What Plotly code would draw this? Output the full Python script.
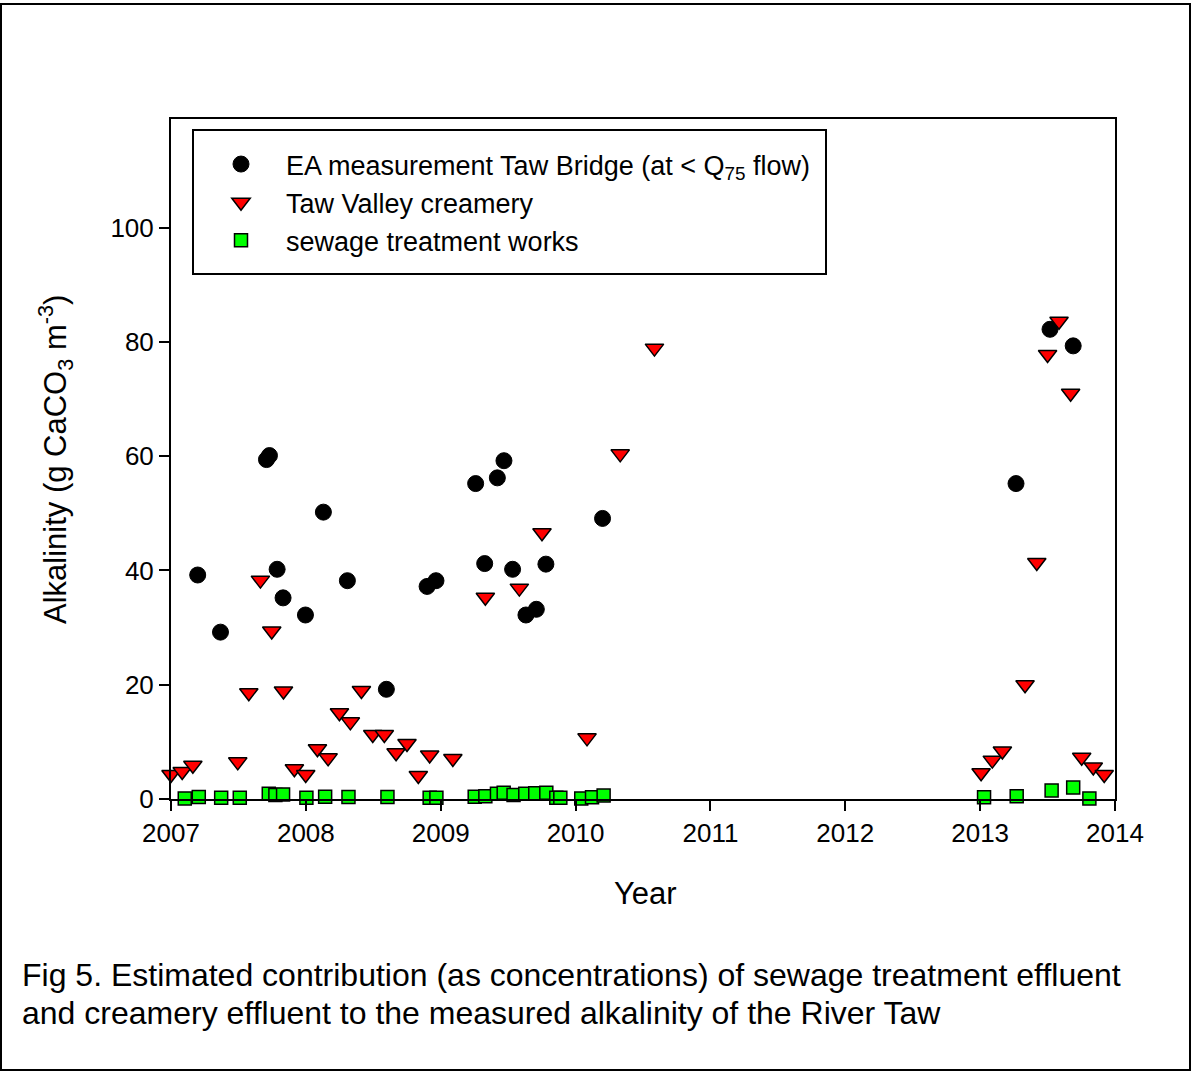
import plotly.graph_objects as go

# ---- data ----
ea_year = [2007.198, 2007.367, 2007.708, 2007.730, 2007.787, 2007.831, 2007.997, 2008.130,
           2008.308, 2008.597, 2008.899, 2008.965, 2009.259, 2009.326, 2009.420, 2009.469,
           2009.533, 2009.632, 2009.709, 2009.780, 2010.200, 2013.266, 2013.518, 2013.690]
ea_alk = [39.2, 29.2, 59.4, 60.1, 40.2, 35.2, 32.2, 50.2,
          38.2, 19.2, 37.2, 38.2, 55.2, 41.2, 56.2, 59.2,
          40.2, 32.2, 33.2, 41.1, 49.1, 55.2, 82.2, 79.3]

cr_year = [2007.000, 2007.083, 2007.162, 2007.495, 2007.577, 2007.663, 2007.747, 2007.834,
           2007.915, 2007.999, 2008.086, 2008.165, 2008.249, 2008.330, 2008.412, 2008.496,
           2008.582, 2008.669, 2008.750, 2008.834, 2008.918, 2009.090, 2009.331, 2009.583,
           2009.751, 2010.085, 2010.331, 2010.585, 2013.007, 2013.090, 2013.165, 2013.333,
           2013.420, 2013.500, 2013.585, 2013.671, 2013.753, 2013.839, 2013.920]
cr_alk = [4.3, 4.8, 5.9, 6.5, 18.6, 38.3, 29.4, 18.9,
          5.3, 4.3, 8.8, 7.2, 15.1, 13.5, 19.0, 11.3,
          11.3, 8.1, 9.7, 4.1, 7.7, 7.1, 35.3, 36.9,
          46.6, 10.7, 60.4, 78.9, 4.6, 6.8, 8.4, 20.0,
          41.4, 77.8, 83.6, 71.0, 7.3, 5.6, 4.3]

sw_year = [2007.102, 2007.206, 2007.372, 2007.510, 2007.725, 2007.774, 2007.831, 2008.004,
           2008.143, 2008.316, 2008.605, 2008.918, 2008.968, 2009.252, 2009.331, 2009.417,
           2009.467, 2009.540, 2009.627, 2009.701, 2009.783, 2009.857, 2009.887, 2010.042,
           2010.122, 2010.208, 2013.029, 2013.271, 2013.530, 2013.690, 2013.810]
sw_alk = [0.1, 0.35, 0.2, 0.2, 0.9, 0.7, 0.8, 0.2,
          0.4, 0.35, 0.35, 0.2, 0.2, 0.4, 0.5, 0.9,
          1.1, 0.7, 0.9, 1.0, 1.1, 0.2, 0.2, 0.1,
          0.3, 0.6, 0.3, 0.5, 1.5, 2.0, 0.1]

x_ticks = [2007, 2008, 2009, 2010, 2011, 2012, 2013, 2014]
y_ticks = [0, 20, 40, 60, 80, 100]

series_names = ["EA measurement Taw Bridge (at &lt; Q<sub>75</sub> flow)",
                "Taw Valley creamery",
                "sewage treatment works"]

caption_lines = ["Fig 5. Estimated contribution (as concentrations) of sewage treatment effluent",
                 "and creamery effluent to the measured alkalinity of the River Taw"]

FONT = "Arial, Liberation Sans, sans-serif"

# ---- layout geometry (pixels) ----
W, H = 1192, 1072
L, R, T, B = 171, 77, 119, 273
PW, PH = W - L - R, H - T - B


def px(xp):
    return (xp - L) / PW


def py(yp):
    return (H - B - yp) / PH


fig = go.Figure()
fig.add_trace(go.Scatter(
    x=ea_year, y=ea_alk, mode="markers", name=series_names[0], cliponaxis=False,
    marker=dict(symbol="circle", size=16, color="black", line=dict(color="black", width=1))))
fig.add_trace(go.Scatter(
    x=cr_year, y=cr_alk, mode="markers", name=series_names[1], cliponaxis=False,
    marker=dict(symbol="triangle-down", size=16, color="#ff0000", line=dict(color="black", width=1.5))))
fig.add_trace(go.Scatter(
    x=sw_year, y=sw_alk, mode="markers", name=series_names[2], cliponaxis=False,
    marker=dict(symbol="square", size=13, color="#00ff00", line=dict(color="black", width=1.5))))

axis_common = dict(showline=True, linecolor="black", linewidth=2, mirror=True,
                   ticks="outside", ticklen=10, tickwidth=2, tickcolor="black",
                   showgrid=False, zeroline=False,
                   tickfont=dict(family=FONT, size=26, color="black"))

annotations = [
    dict(text="Year", xref="paper", yref="paper", x=px(645), y=py(893),
         xanchor="center", yanchor="middle", showarrow=False,
         font=dict(family=FONT, size=31, color="black")),
    dict(text="Alkalinity (g CaCO<sub>3</sub> m<sup>-3</sup>)", xref="paper", yref="paper",
         x=px(55), y=py(460), textangle=-90,
         xanchor="center", yanchor="middle", showarrow=False,
         font=dict(family=FONT, size=31, color="black")),
]
for line, ypix in zip(caption_lines, [975, 1013]):
    annotations.append(dict(text=line, xref="paper", yref="paper", x=px(20), y=py(ypix),
                            xanchor="left", yanchor="middle", align="left", showarrow=False,
                            font=dict(family=FONT, size=32, color="black")))

fig.update_layout(
    width=W, height=H,
    margin=dict(l=L, r=R, t=T, b=B, pad=0),
    paper_bgcolor="white", plot_bgcolor="white",
    font=dict(family=FONT, color="black"),
    xaxis=dict(range=[2007, 2014], tickvals=x_ticks, ticktext=[str(v) for v in x_ticks], **axis_common),
    yaxis=dict(range=[0, 119], tickvals=y_ticks, ticktext=[str(v) for v in y_ticks], **axis_common),
    showlegend=True,
    legend=dict(x=px(196), y=py(140), xanchor="left", yanchor="top",
                bgcolor="rgba(0,0,0,0)", borderwidth=0,
                font=dict(family=FONT, size=27, color="black"),
                itemwidth=80, tracegroupgap=0),
    shapes=[
        # legend frame
        dict(type="rect", xref="paper", yref="paper",
             x0=px(193), x1=px(826), y0=py(274), y1=py(130),
             line=dict(color="black", width=2), fillcolor="rgba(0,0,0,0)", layer="below"),
        # outer figure frame
        dict(type="rect", xref="paper", yref="paper",
             x0=px(1), x1=px(1190), y0=py(1070), y1=py(4),
             line=dict(color="black", width=2), fillcolor="rgba(0,0,0,0)"),
    ],
    annotations=annotations,
)

fig.write_html("out.html", config={"displayModeBar": False},
               post_script="document.body.style.margin='0';")
